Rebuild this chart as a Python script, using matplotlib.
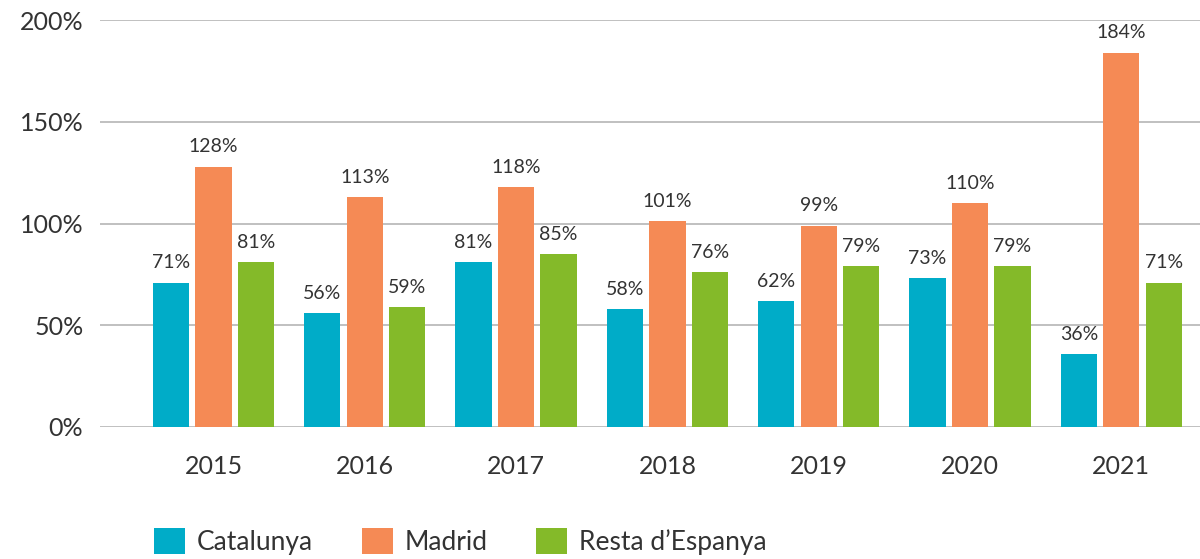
import matplotlib
matplotlib.use("Agg")
import matplotlib.pyplot as plt
import numpy as np

years = ["2015", "2016", "2017", "2018", "2019", "2020", "2021"]
catalunya = [71, 56, 81, 58, 62, 73, 36]
madrid = [128, 113, 118, 101, 99, 110, 184]
resta = [81, 59, 85, 76, 79, 79, 71]
series_names = ["Catalunya", "Madrid", "Resta d\u2019Espanya"]
colors = ["#00ACC8", "#F58A55", "#84BA29"]
yticks = [0, 50, 100, 150, 200]

plt.rcParams['font.family'] = ['Lato', 'DejaVu Sans']
text_color = "#333333"

fig = plt.figure(figsize=(12, 5.59), dpi=100)
ax = fig.add_axes([100/1200, 132/559, 1100/1200, 407/559])

x = np.arange(len(years))
offset = 0.281
width = 0.24
handles = []
for i, (vals, name, c) in enumerate(zip([catalunya, madrid, resta], series_names, colors)):
    pos = x + (i - 1) * offset
    bars = ax.bar(pos, vals, width=width, color=c, label=name, zorder=3)
    handles.append(bars)
    for xp, v in zip(pos, vals):
        ax.annotate(f"{v}%", (xp, v), xytext=(0, 8), textcoords="offset points",
                    ha="center", va="bottom", fontsize=14, color=text_color)

ax.set_ylim(0, 200)
ax.set_xlim(-0.75, 6.52)
ax.set_yticks(yticks)
ax.set_yticklabels([f"{t}%" for t in yticks])
ax.set_xticks(x)
ax.set_xticklabels(years)
ax.tick_params(axis="y", length=0, pad=12, labelsize=18, labelcolor=text_color)
ax.tick_params(axis="x", length=0, pad=20, labelsize=18, labelcolor=text_color)
ax.grid(axis="y", color="#BBBBBB", linewidth=1.3, zorder=0)
for s in ["top", "right", "left", "bottom"]:
    ax.spines[s].set_visible(False)
ax.set_axisbelow(True)

fig.legend(handles=handles, labels=series_names, loc="center left",
           bbox_to_anchor=(154/1200, 17.5/559), ncol=3, frameon=False,
           fontsize=19, handlelength=1.17, handleheight=1.17,
           handletextpad=0.45, columnspacing=1.85, labelcolor=text_color,
           borderpad=0, borderaxespad=0)

fig.savefig("out.png", dpi=100)
